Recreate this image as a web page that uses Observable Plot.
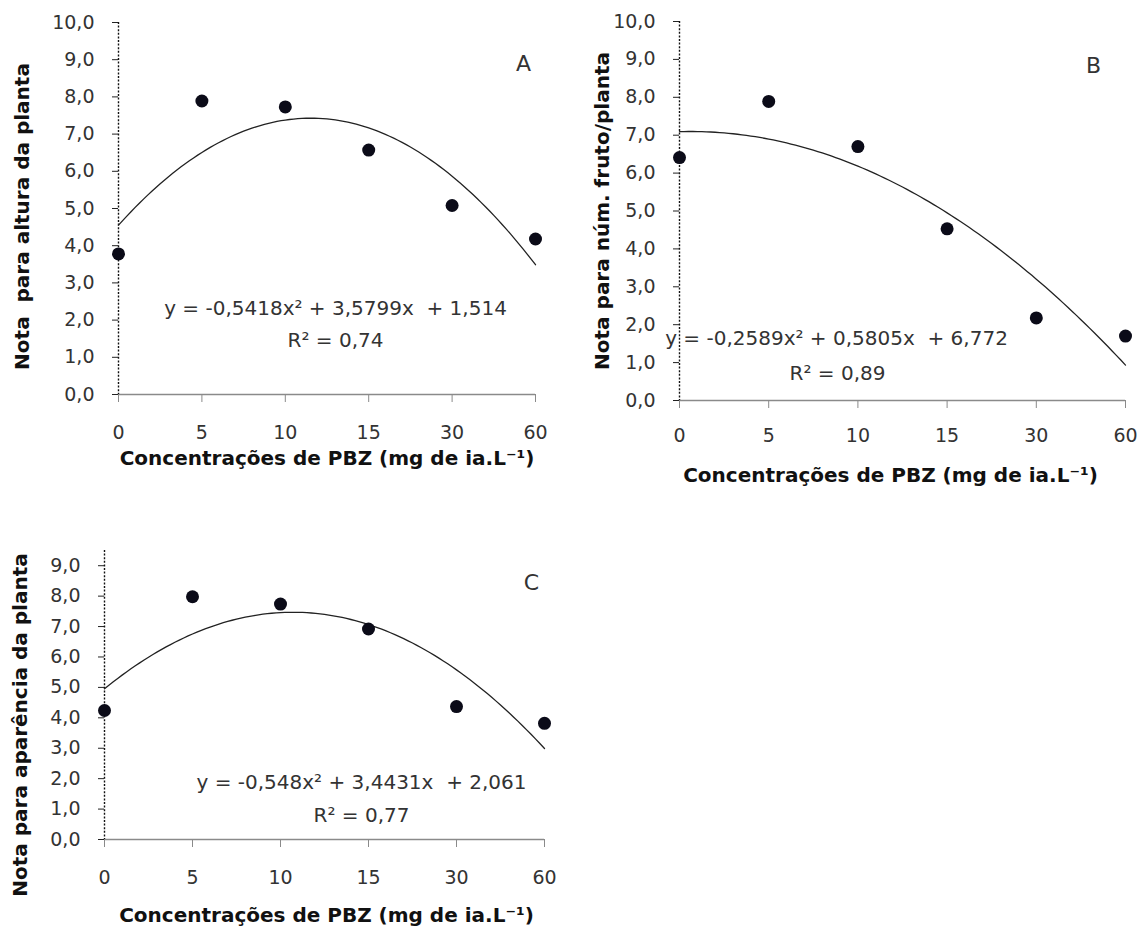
<!DOCTYPE html>
<html>
<head>
<meta charset="utf-8">
<script src="https://cdn.jsdelivr.net/npm/d3@7"></script>
<script src="https://cdn.jsdelivr.net/npm/@observablehq/plot@0.6"></script>
<style>
  html, body { margin: 0; padding: 0; background: #ffffff; }
  #page { position: relative; width: 1144px; height: 932px; overflow: hidden; background: #fff; }
  #page > div { position: absolute; }
</style>
</head>
<body>
<div id="page"></div>
<script>
// ---------- data ----------
const concLabels = ["0", "5", "10", "15", "30", "60"];      // mg de ia.L-1 (evenly spaced categories)

const notaAltura    = [3.78, 7.89, 7.73, 6.57, 5.08, 4.18];  // A
const notaFruto     = [6.41, 7.89, 6.70, 4.53, 2.18, 1.70];  // B
const notaAparencia = [4.24, 7.98, 7.74, 6.92, 4.37, 3.82];  // C

// quadratic fit coefficients (a, b, c) as printed on the chart, x = category index 1..6
const coefAltura    = [-0.5418, 3.5799, 1.514];
const coefFruto     = [-0.2589, 0.5805, 6.772];
const coefAparencia = [-0.548, 3.4431, 2.061];

const eqAltura    = "y = -0,5418x² + 3,5799x  + 1,514";
const eqFruto     = "y = -0,2589x² + 0,5805x  + 6,772";
const eqAparencia = "y = -0,548x² + 3,4431x  + 2,061";
const r2Altura    = "R² = 0,74";
const r2Fruto     = "R² = 0,89";
const r2Aparencia = "R² = 0,77";

const yTitles = ["Nota  para altura da planta", "Nota para núm. fruto/planta", "Nota para aparência da planta"];
const xTitle = "Concentrações de PBZ (mg de ia.L⁻¹)";
const panelLetters = ["A", "B", "C"];

// ---------- drawing ----------
const page = document.getElementById("page");
const fmtY = d => d.toFixed(1).replace(".", ",");

function panel(o) {
  const rows = concLabels.map((lab, i) => ({pos: i + 1, conc: lab, nota: o.values[i]}));
  const [a, b, c] = o.coef;
  const curve = d3.range(1, 6.0001, 0.05).map(x => ({x, y: a * x * x + b * x + c}));
  const yTicks = d3.range(0, o.yTickMax + 0.001, 1);
  const txt = {text: d => d, textAnchor: "middle", lineAnchor: "middle"};

  const chart = Plot.plot({
    width: o.width, height: o.height,
    marginLeft: o.ml, marginRight: o.mr, marginTop: o.mt, marginBottom: o.mb,
    style: {fontFamily: "'DejaVu Sans', sans-serif", fontSize: "19px", color: "#333", background: "transparent", overflow: "visible"},
    x: {domain: [1, 6]},
    y: {domain: [0, o.yMax]},
    marks: [
      Plot.axisY({ticks: yTicks, tickFormat: fmtY, tickSize: 6, tickPadding: 18, fontSize: 19, stroke: "#222", label: null}),
      Plot.axisX({ticks: rows.map(d => d.pos), tickFormat: d => concLabels[d - 1], tickSize: 8, tickPadding: o.xPad, fontSize: 19, stroke: "#8a8a8a", fill: "#333", label: null}),
      Plot.ruleY([0], {stroke: "#8a8a8a", strokeWidth: 1.6}),
      Plot.ruleX([1], {stroke: "#111", strokeWidth: 1.4, strokeDasharray: "2,1.6"}),
      Plot.line(curve, {x: "x", y: "y", stroke: "#222", strokeWidth: 1.3, curve: "linear"}),
      Plot.dot(rows, {x: "pos", y: "nota", r: 6.5, fill: "#0b0b18", stroke: "none"}),
      Plot.text([o.eq], {...txt, frameAnchor: "top-left", dx: o.eqDx, dy: o.eqDy, fontSize: 20, fill: "#333"}),
      Plot.text([o.r2], {...txt, frameAnchor: "top-left", dx: o.r2Dx, dy: o.r2Dy, fontSize: 20, fill: "#333"}),
      Plot.text([o.letter], {...txt, frameAnchor: "top-right", dx: o.letDx, dy: o.letDy, fontSize: 22, fill: "#333"}),
      Plot.text([xTitle], {...txt, frameAnchor: "bottom", dx: o.xtDx, dy: o.xtDy, fontSize: 20, fontWeight: "bold", fill: "#111"}),
      Plot.text([o.yTitle], {...txt, frameAnchor: "left", dx: o.ytDx, dy: o.ytDy, rotate: -90, fontSize: 20, fontWeight: "bold", fill: "#111"})
    ]
  });
  const holder = document.createElement("div");
  holder.style.left = o.left + "px";
  holder.style.top = o.top + "px";
  holder.appendChild(chart);
  page.appendChild(holder);
}

panel({
  values: notaAltura, coef: coefAltura, eq: eqAltura, r2: r2Altura, letter: panelLetters[0], yTitle: yTitles[0],
  yMax: 10, yTickMax: 10,
  left: 0, top: 0, width: 572, height: 490, ml: 118, mr: 37, mt: 22, mb: 96, xPad: 23,
  eqDx: 217, eqDy: 286, r2Dx: 217, r2Dy: 318, letDx: -12, letDy: 41,
  xtDx: 0, xtDy: 64, ytDx: -96, ytDy: 8
});

panel({
  values: notaFruto, coef: coefFruto, eq: eqFruto, r2: r2Fruto, letter: panelLetters[1], yTitle: yTitles[1],
  yMax: 10, yTickMax: 10,
  left: 572, top: 0, width: 572, height: 500, ml: 107, mr: 19, mt: 21, mb: 100, xPad: 20,
  eqDx: 157, eqDy: 317, r2Dx: 158, r2Dy: 352, letDx: -32, letDy: 44,
  xtDx: -12, xtDy: 75, ytDx: -77, ytDy: 0
});

panel({
  values: notaAparencia, coef: coefAparencia, eq: eqAparencia, r2: r2Aparencia, letter: panelLetters[2], yTitle: yTitles[2],
  yMax: 9.5, yTickMax: 9,
  left: 0, top: 500, width: 572, height: 432, ml: 104, mr: 28, mt: 50, mb: 93, xPad: 23,
  eqDx: 257, eqDy: 232, r2Dx: 257, r2Dy: 265, letDx: -13, letDy: 32,
  xtDx: 2, xtDy: 76, ytDx: -84, ytDy: 30
});
</script>
</body>
</html>
